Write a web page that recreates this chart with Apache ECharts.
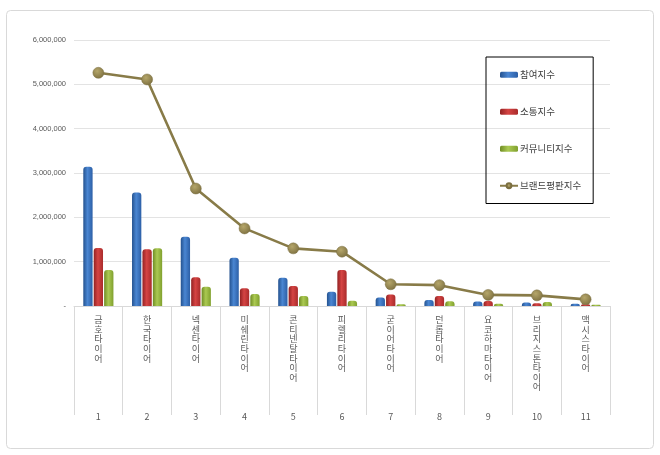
<!DOCTYPE html>
<html><head><meta charset="utf-8">
<script src="https://cdn.jsdelivr.net/npm/echarts@6/dist/echarts.min.js"></script>
<style>html,body{margin:0;padding:0;background:#fff}#c{width:660px;height:455px}</style>
</head><body><div id="c"></div>
<script>
const categories = ['금호타이어','한국타이어','넥센타이어','미쉐린타이어','콘티넨탈타이어','피렐리타이어','굳이어타이어','던롭타이어','요코하마타이어','브리지스톤타이어','맥시스타이어'];
const ranks = ['1','2','3','4','5','6','7','8','9','10','11'];
const participation = [3140000,2560000,1560000,1090000,640000,320000,190000,135000,100000,80000,50000];
const communication = [1310000,1280000,650000,400000,450000,810000,260000,225000,110000,60000,40000];
const community = [810000,1300000,435000,270000,225000,120000,40000,105000,50000,90000,30000];
const brandIndex = [5260000,5110000,2650000,1750000,1300000,1225000,490000,470000,250000,240000,150000];
const seriesNames = ['참여지수','소통지수','커뮤니티지수','브랜드평판지수'];
const yTicks = {min:0, max:6000000, interval:1000000};

const FONT = '"Noto Sans CJK KR", "Noto Sans", sans-serif';
const grad = (a,b,c) => new echarts.graphic.LinearGradient(0,0,1,0,[{offset:0,color:a},{offset:0.45,color:b},{offset:1,color:c}]);

const chart = echarts.init(document.getElementById('c'), null, {renderer:'canvas'});
chart.setOption({
  backgroundColor:'#fff',
  animation:false,
  graphic:[{type:'rect', shape:{x:6.5,y:10.5,width:647,height:438,r:4}, style:{fill:'none',stroke:'#d9d9d9',lineWidth:1}, silent:true}],
  grid:{left:74, right:50, top:40, bottom:149},
  legend:{
    orient:'vertical', left:486, top:57,
    padding:[13,12,13,13], itemGap:27.5, itemWidth:18, itemHeight:6,
    borderColor:'#000', borderWidth:1,
    textStyle:{fontFamily:FONT, fontSize:9.5, color:'#404040', padding:[0,0,0,-3]},
    data:seriesNames
  },
  xAxis:[{
    type:'category', data:categories, position:'bottom',
    axisLine:{lineStyle:{color:'#d9d9d9'}},
    axisTick:{show:true, length:109, lineStyle:{color:'#d9d9d9'}},
    axisLabel:{interval:0, margin:9, fontFamily:FONT, fontSize:9, color:'#595959', lineHeight:9.6,
      formatter:v=>v.split('').join('\n'), verticalAlign:'top'}
  },{
    type:'category', data:ranks, position:'bottom', offset:98,
    axisLine:{show:false}, axisTick:{show:false},
    axisLabel:{interval:0, fontFamily:FONT, fontSize:9, color:'#595959'}
  }],
  yAxis:{
    type:'value', min:yTicks.min, max:yTicks.max, interval:yTicks.interval,
    axisLine:{show:false}, axisTick:{show:false},
    splitLine:{lineStyle:{color:'#e3e3e3'}},
    axisLabel:{fontFamily:'"Liberation Sans", sans-serif', fontSize:7.5, color:'#595959', margin:8,
      formatter:v=> v===0 ? '-' : v.toLocaleString('en-US')}
  },
  series:[
    {name:seriesNames[0], type:'bar', data:participation, barWidth:9.3, barGap:'12%',
      itemStyle:{color:grad('#24528f','#4a86d2','#2c5fa6'), borderRadius:[3,3,0,0]}},
    {name:seriesNames[1], type:'bar', data:communication, barWidth:9.3, barGap:'12%',
      itemStyle:{color:grad('#922223','#d54443','#a92b2b'), borderRadius:[3,3,0,0]}},
    {name:seriesNames[2], type:'bar', data:community, barWidth:9.3, barGap:'12%',
      itemStyle:{color:grad('#6f8c24','#abc952','#80a02e'), borderRadius:[3,3,0,0]}},
    {name:seriesNames[3], type:'line', data:brandIndex, symbol:'circle', symbolSize:11,
      lineStyle:{color:'#887b48', width:2.6},
      itemStyle:{color:new echarts.graphic.RadialGradient(0.4,0.35,0.7,[{offset:0,color:'#b5a66a'},{offset:1,color:'#7d7040'}]), borderColor:'#7a6e40', borderWidth:0.5},
      z:5}
  ]
});
</script></body></html>
